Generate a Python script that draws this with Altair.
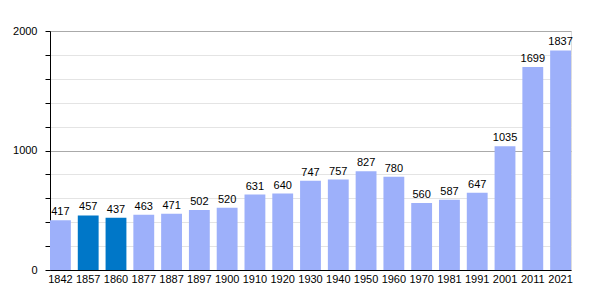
import altair as alt
import pandas as pd

years = ["1842", "1857", "1860", "1877", "1887", "1897", "1900", "1910", "1920", "1930",
         "1940", "1950", "1960", "1970", "1981", "1991", "2001", "2011", "2021"]
values = [417, 457, 437, 463, 471, 502, 520, 631, 640, 747,
          757, 827, 780, 560, 587, 647, 1035, 1699, 1837]
highlight = [False, True, True] + [False] * 16
tick_values = [0, 200, 400, 600, 800, 1000, 1200, 1400, 1600, 1800, 2000]

df = pd.DataFrame({"year": years, "value": values, "hl": highlight})

FONT = "Liberation Sans"

x = alt.X("year:N", sort=years, title=None,
          scale=alt.Scale(paddingInner=0.25, paddingOuter=0.0),
          axis=alt.Axis(labelAngle=0, ticks=False, domainColor="#000000", domainWidth=1,
                        labelFont=FONT, labelFontSize=11, labelColor="#000000", labelPadding=3))

y = alt.Y("value:Q", title=None,
          scale=alt.Scale(domain=[0, 2000], nice=False),
          axis=alt.Axis(values=tick_values, format="d",
                        labelExpr="datum.value % 1000 === 0 ? datum.label : ''",
                        labelOverlap=False,
                        labelFont=FONT, labelFontSize=11, labelColor="#000000",
                        tickSize=5, tickColor="#000000", domainColor="#000000",
                        labelPadding=8,
                        grid=True,
                        gridColor={"condition": {"test": "datum.value % 1000 === 0", "value": "#aaaaaa"},
                                   "value": "#e4e4e4"}))

bars = alt.Chart(df).mark_bar().encode(
    x=x, y=y,
    color=alt.Color("hl:N", scale=alt.Scale(domain=[False, True], range=["#9db0fa", "#0077c8"]), legend=None),
)

labels = alt.Chart(df).mark_text(baseline="bottom", dy=-3, font=FONT, fontSize=11, color="#000000").encode(
    x=x, y=y, text="value:Q",
)

chart = (bars + labels).properties(
    width=521, height=239,
    autosize=alt.AutoSizeParams(type="none"),
    padding={"left": 50, "top": 31, "right": 29, "bottom": 30},
).configure_view(stroke=None).configure(background="#ffffff")

chart.save("out.html", embed_options={"renderer": "svg", "actions": False})
